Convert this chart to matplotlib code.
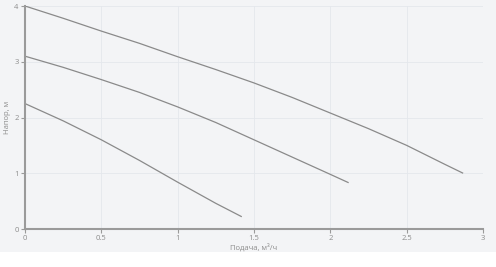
import matplotlib
matplotlib.use("Agg")
import matplotlib.pyplot as plt
from matplotlib.patches import Rectangle

# Data
flow_top = [0, 0.25, 0.5, 0.75, 1.0, 1.25, 1.5, 1.75, 2.0, 2.25, 2.5, 2.75, 2.87]
head_top = [4.0, 3.78, 3.55, 3.33, 3.09, 2.86, 2.62, 2.36, 2.08, 1.80, 1.50, 1.16, 1.0]

flow_mid = [0, 0.25, 0.5, 0.75, 1.0, 1.25, 1.5, 1.75, 2.0, 2.12]
head_mid = [3.1, 2.9, 2.68, 2.45, 2.19, 1.91, 1.60, 1.29, 0.98, 0.83]

flow_low = [0, 0.25, 0.5, 0.75, 1.0, 1.25, 1.42]
head_low = [2.25, 1.94, 1.60, 1.23, 0.84, 0.46, 0.22]

x_ticks = [0, 0.5, 1, 1.5, 2, 2.5, 3]
x_tick_labels = ["0", "0.5", "1", "1.5", "2", "2.5", "3"]
y_ticks = [0, 1, 2, 3, 4]
y_tick_labels = ["0", "1", "2", "3", "4"]

bg = "#f3f4f6"
plt.rcParams['font.family'] = ['Open Sans', 'DejaVu Sans']

fig = plt.figure(figsize=(4.96, 2.67), dpi=100, facecolor="white")
fig.patches.append(Rectangle((0, 0.056), 1, 1 - 0.056, transform=fig.transFigure,
                             facecolor=bg, edgecolor="none", zorder=-10))
ax = fig.add_axes([0.0504, 0.1423, 0.9234, 0.8352])
ax.set_facecolor(bg)

line_color = "#8a8a8a"
for fx, hy in [(flow_top, head_top), (flow_mid, head_mid), (flow_low, head_low)]:
    ax.plot(fx, hy, color=line_color, lw=0.9, solid_capstyle="butt")

ax.set_xlim(0, 3)
ax.set_ylim(0, 4)
ax.set_xticks(x_ticks)
ax.set_xticklabels(x_tick_labels)
ax.set_yticks(y_ticks)
ax.set_yticklabels(y_tick_labels)
ax.grid(True, color="#e4e7ec", lw=0.6)
ax.set_axisbelow(True)

for s in ["top", "right"]:
    ax.spines[s].set_visible(False)
for s in ["left", "bottom"]:
    ax.spines[s].set_color("#9a9a9a")
    ax.spines[s].set_linewidth(1.5)

ax.tick_params(axis="both", colors="#9a9a9a", labelcolor="#8c8c8c", labelsize=5.5,
               length=3, width=0.8, pad=1.5)

ax.set_xlabel("Подача, м³/ч", fontsize=5.5, color="#8c8c8c", labelpad=1)
ax.set_ylabel("Напор, м", fontsize=5.5, color="#8c8c8c", labelpad=2)

fig.savefig("out.png", dpi=100, facecolor=fig.get_facecolor())
